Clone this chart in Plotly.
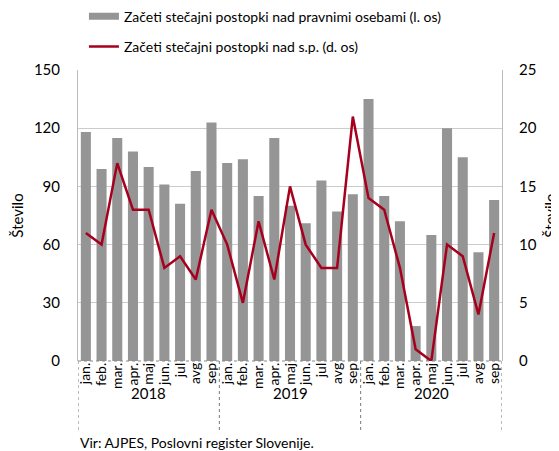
import plotly.graph_objects as go

years = ["2018", "2019", "2020"]
months = ["jan.", "feb.", "mar.", "apr.", "maj", "jun.", "jul", "avg", "sep"]
pravne = [118, 99, 115, 108, 100, 91, 81, 98, 123,
          102, 104, 85, 115, 80, 71, 93, 77, 86,
          135, 85, 72, 18, 65, 120, 105, 56, 83]
sp = [11, 10, 17, 13, 13, 8, 9, 7, 13,
      10, 5, 12, 7, 15, 10, 8, 8, 21,
      14, 13, 8, 1, 0, 10, 9, 4, 11]
name_bar = "Začeti stečajni postopki nad pravnimi osebami (l. os)"
name_line = "Začeti stečajni postopki nad s.p. (d. os)"
source = "Vir: AJPES, Poslovni register Slovenije."

FONT = "Lato"
BAR_COLOR = "#959595"
n = len(pravne)
idx = list(range(n))
ticktext = [m for _ in years for m in months]

fig = go.Figure()
fig.add_trace(go.Bar(x=idx, y=pravne, name=name_bar, marker_color=BAR_COLOR,
                     marker_line_width=0, showlegend=False, legendgroup="a"))
# legend-only entry so the bar key is a wide flat rectangle as in the reference
fig.add_trace(go.Scatter(x=[None], y=[None], name=name_bar, mode="lines",
                         line=dict(color=BAR_COLOR, width=7), legendgroup="a"))
fig.add_trace(go.Scatter(x=idx, y=sp, name=name_line, mode="lines", yaxis="y2",
                         line=dict(color="#A6001E", width=2.5), legendgroup="b"))

shapes = []
annotations = []
per = len(months)
for i, yr in enumerate(years):
    start = i * per - 0.5
    end = (i + 1) * per - 0.5
    annotations.append(dict(x=(start + end) / 2, y=-0.11, xref="x", yref="paper",
                            text=yr, showarrow=False, yanchor="middle",
                            font=dict(size=15, color="#000", family=FONT)))
    for xb in ([start, end] if i == 0 else [end]):
        shapes.append(dict(type="line", xref="x", yref="paper", x0=xb, x1=xb,
                           y0=0, y1=-0.245, line=dict(color="#777", width=1, dash="dot")))
shapes.append(dict(type="line", xref="paper", yref="paper", x0=0, x1=1, y0=0, y1=0,
                   line=dict(color="#888", width=1, dash="dot")))
annotations.append(dict(x=0.0, y=-0.281, xref="paper", yref="paper", text=source,
                        showarrow=False, xanchor="left", yanchor="middle",
                        font=dict(size=14, color="#000", family=FONT)))

fig.update_layout(
    width=551, height=443,
    margin=dict(l=70, r=57, t=62, b=90, autoexpand=False),
    paper_bgcolor="white", plot_bgcolor="white",
    font=dict(family=FONT, size=15, color="#000"),
    bargap=0.36,
    showlegend=True,
    legend=dict(x=0.014, y=1.238, xanchor="left", yanchor="top", orientation="v",
                traceorder="grouped", tracegroupgap=9, font=dict(size=14),
                itemwidth=30, bgcolor="rgba(0,0,0,0)"),
    xaxis=dict(range=[-0.5, n - 0.5], tickmode="array", tickvals=idx, ticktext=ticktext,
               tickangle=-90, showgrid=False, zeroline=False, showline=False,
               ticks="", tickfont=dict(size=14), ticklabelstandoff=-2, automargin=False),
    yaxis=dict(range=[0, 150], tickvals=[0, 30, 60, 90, 120, 150], showgrid=True,
               gridcolor="#cccccc", gridwidth=1, zeroline=False, showline=True,
               linecolor="#bbbbbb", linewidth=1, mirror=True, ticks="",
               ticklabelstandoff=14, automargin=False,
               title=dict(text="Število", standoff=14, font=dict(size=15))),
    yaxis2=dict(range=[0, 25], tickvals=[0, 5, 10, 15, 20, 25], overlaying="y", side="right",
                showgrid=False, zeroline=False, showline=False, ticks="",
                ticklabelstandoff=16, automargin=False,
                title=dict(text="Število", standoff=14, font=dict(size=15))),
    shapes=shapes, annotations=annotations,
)

fig.write_html("out.html")
